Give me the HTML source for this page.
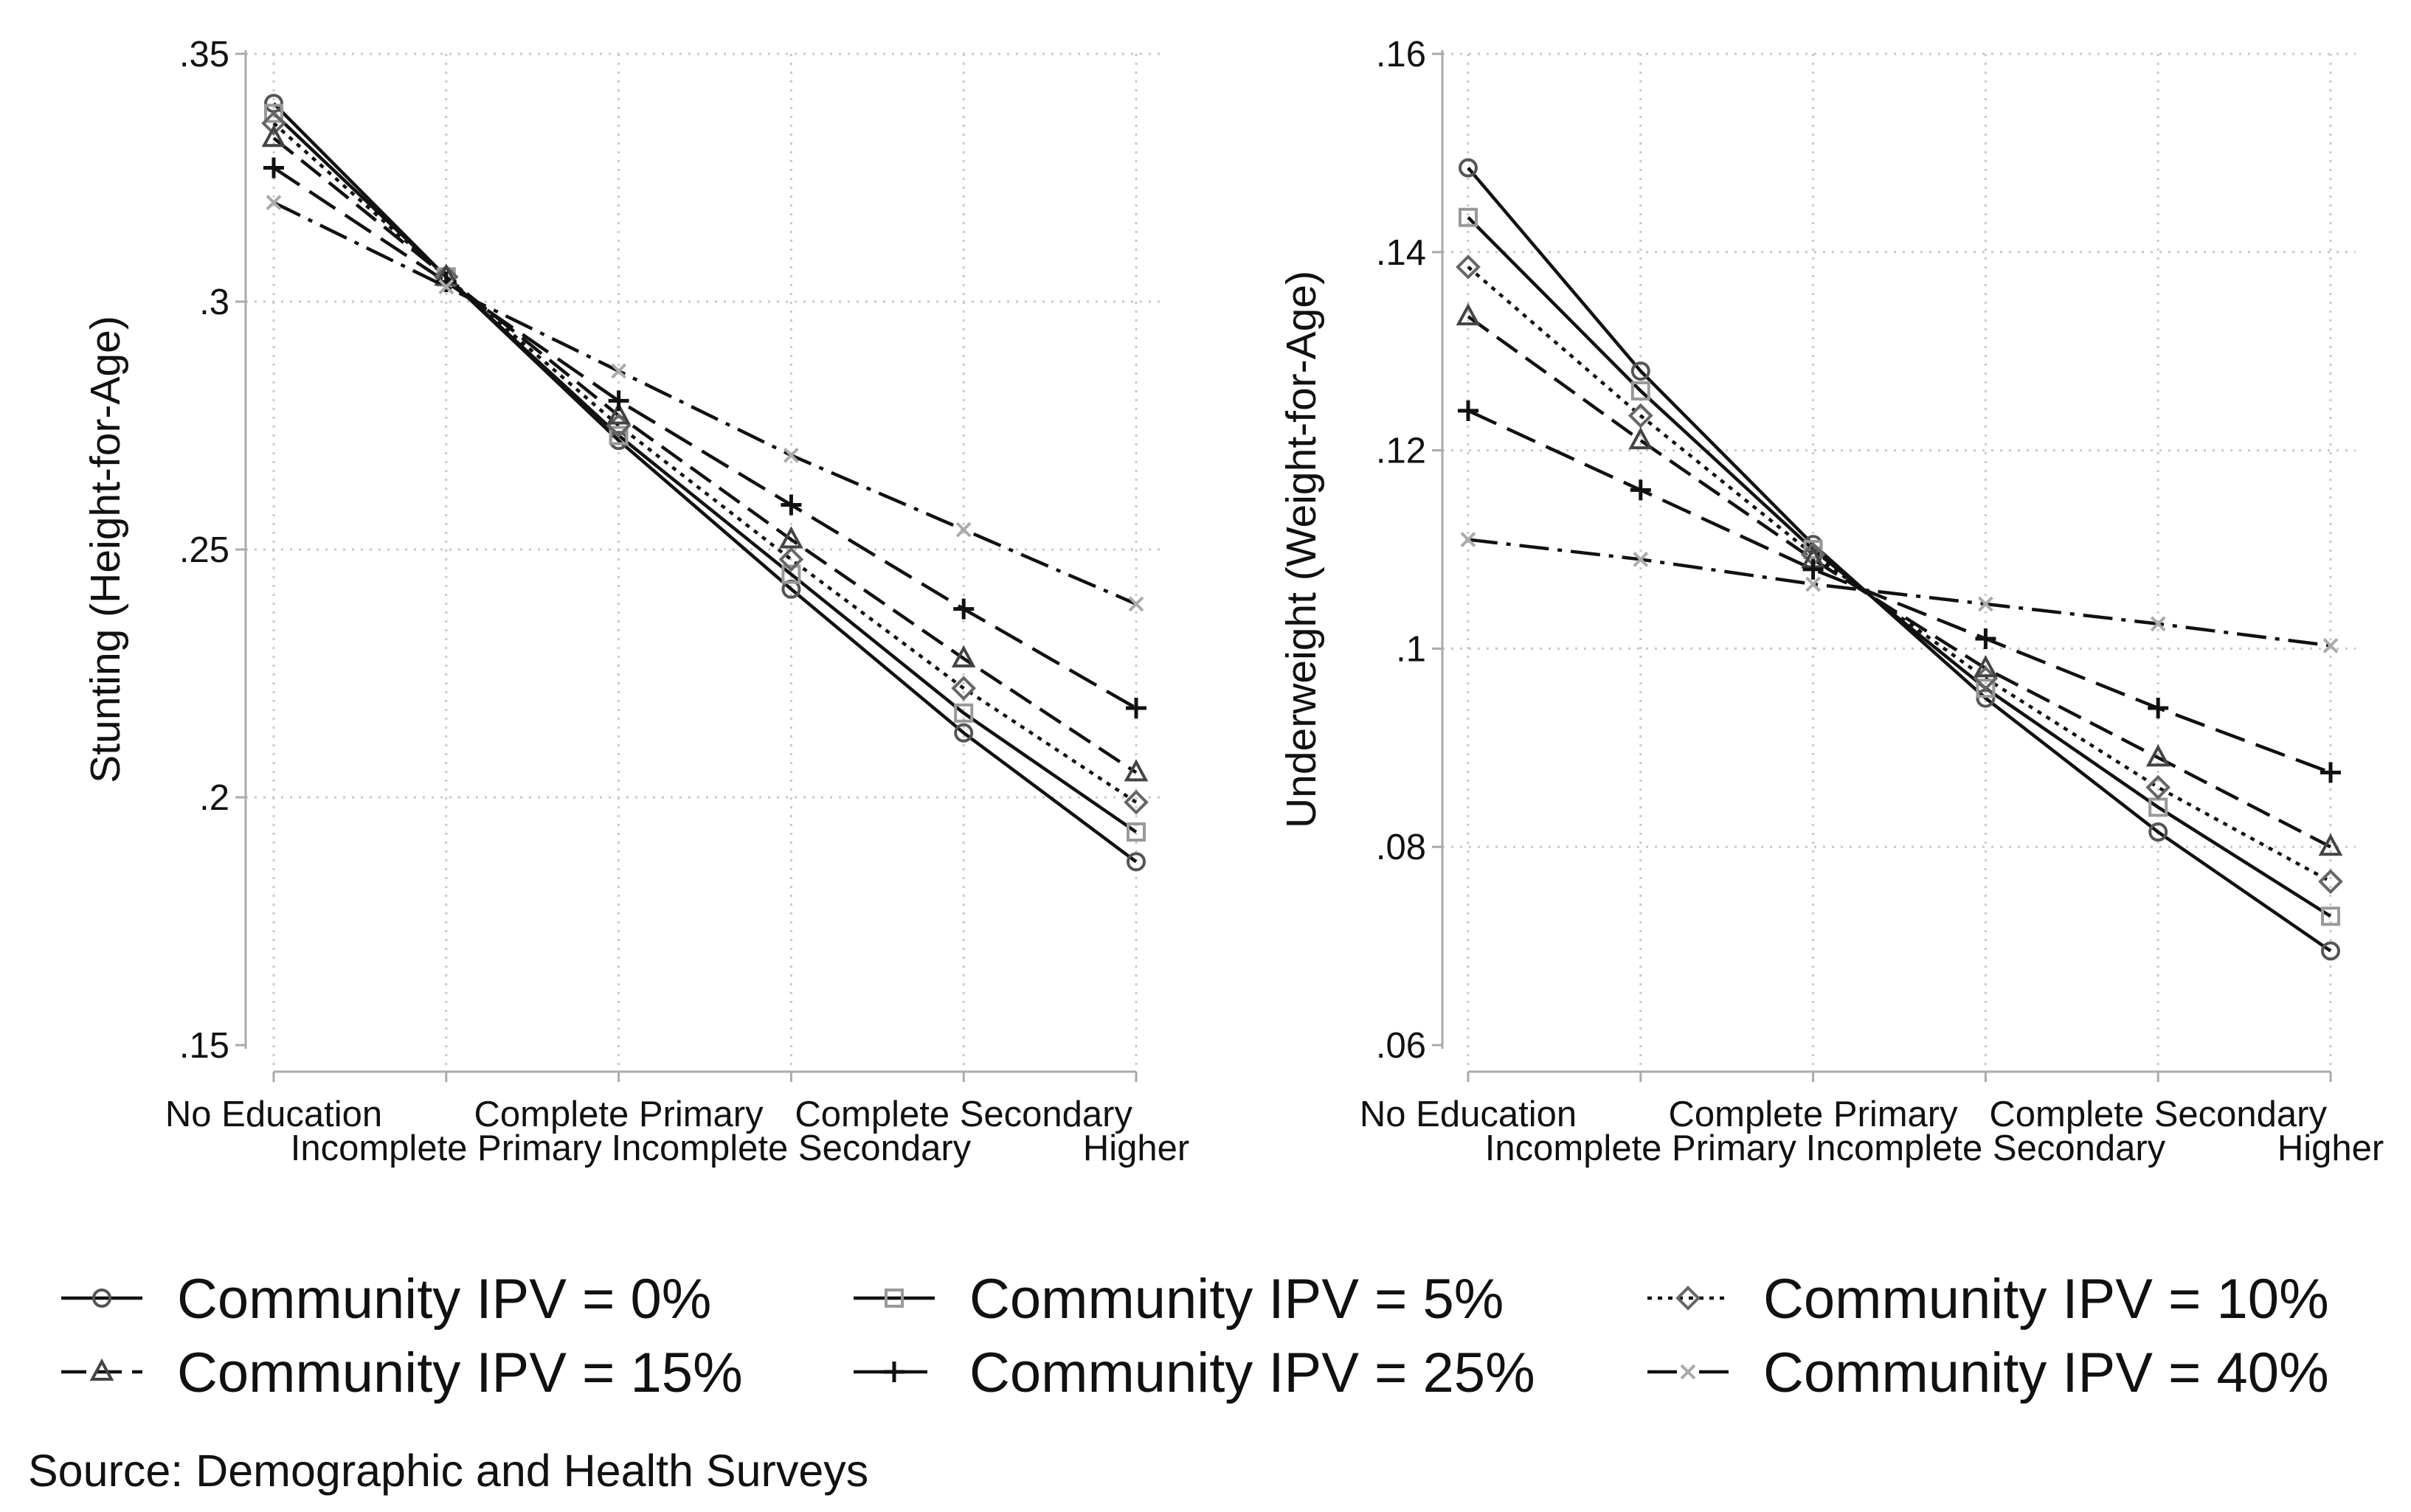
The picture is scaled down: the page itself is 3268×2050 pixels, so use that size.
<!DOCTYPE html>
<html><head><meta charset="utf-8"><style>
html,body{margin:0;padding:0;background:#fff;}
svg{display:block;font-family:"Liberation Sans",Arial,sans-serif;}
</style></head><body>
<svg id="chart" width="3268" height="2050" viewBox="0 0 3268 2050">
<rect width="3268" height="2050" fill="#fff"/>
<g id="plots"></g>
<g id="legend"></g>
<text x="38" y="2015" font-size="61" fill="#111">Source: Demographic and Health Surveys</text>
</svg>
<script>
const categories = ["No Education","Incomplete Primary","Complete Primary","Incomplete Secondary","Complete Secondary","Higher"];
const seriesNames = ["Community IPV = 0%","Community IPV = 5%","Community IPV = 10%","Community IPV = 15%","Community IPV = 25%","Community IPV = 40%"];
const stunting0 = [0.340,0.305,0.272,0.242,0.213,0.187];
const stunting5 = [0.338,0.305,0.273,0.245,0.217,0.193];
const stunting10 = [0.336,0.305,0.275,0.248,0.222,0.199];
const stunting15 = [0.333,0.305,0.277,0.252,0.228,0.205];
const stunting25 = [0.327,0.304,0.280,0.259,0.238,0.218];
const stunting40 = [0.320,0.303,0.286,0.269,0.254,0.239];
const under0 = [0.1485,0.128,0.1105,0.095,0.0815,0.0695];
const under5 = [0.1435,0.126,0.110,0.096,0.084,0.073];
const under10 = [0.1385,0.1235,0.1095,0.097,0.086,0.0765];
const under15 = [0.1335,0.121,0.109,0.098,0.089,0.080];
const under25 = [0.124,0.116,0.108,0.101,0.094,0.0875];
const under40 = [0.111,0.109,0.1065,0.1045,0.1025,0.1003];
const stuntTicks = [0.15,0.2,0.25,0.3,0.35];
const stuntTickLabels = [".15",".2",".25",".3",".35"];
const underTicks = [0.06,0.08,0.1,0.12,0.14,0.16];
const underTickLabels = [".06",".08",".1",".12",".14",".16"];

const NS="http://www.w3.org/2000/svg";
function mk(tag,attrs,parent){const e=document.createElementNS(NS,tag);for(const k in attrs)e.setAttribute(k,attrs[k]);parent.appendChild(e);return e;}
const styles=[
 {dash:"",color:"#111",mcol:"#555",marker:"circle"},
 {dash:"",color:"#111",mcol:"#999",marker:"square"},
 {dash:"6,8",color:"#111",mcol:"#666",marker:"diamond"},
 {dash:"34,14",color:"#111",mcol:"#444",marker:"triangle"},
 {dash:"42,16",color:"#111",mcol:"#111",marker:"plus"},
 {dash:"40,12,6,12",color:"#111",mcol:"#aaa",marker:"x"}
];
function drawMarker(g,type,x,y,col){
  let m;
  if(type==="circle") m=mk("circle",{cx:x,cy:y,r:11,fill:"none",stroke:col,"stroke-width":4},g);
  else if(type==="square") m=mk("rect",{x:x-11,y:y-11,width:22,height:22,fill:"none",stroke:col,"stroke-width":4},g);
  else if(type==="diamond") m=mk("polygon",{points:`${x},${y-14} ${x+14},${y} ${x},${y+14} ${x-14},${y}`,fill:"none",stroke:col,"stroke-width":4},g);
  else if(type==="triangle") m=mk("polygon",{points:`${x},${y-14} ${x+13},${y+10} ${x-13},${y+10}`,fill:"none",stroke:col,"stroke-width":4},g);
  else if(type==="plus") m=mk("path",{d:`M${x-14},${y}H${x+14}M${x},${y-14}V${y+14}`,stroke:col,"stroke-width":5},g);
  else m=mk("path",{d:`M${x-9},${y-9}L${x+9},${y+9}M${x+9},${y-9}L${x-9},${y+9}`,stroke:col,"stroke-width":4},g);
  
  
}
function panel(opt){
  const root=document.getElementById("plots");
  const g=mk("g",{},root);
  
  
  const xs=i=>opt.x0+i*opt.dx;
  const ys=v=>opt.yTop+(opt.yMax-v)/(opt.yMax-opt.yMin)*(opt.yBot-opt.yTop);
  opt.ticks.forEach((t,i)=>{
    const y=ys(t);
    if(i>0){const gl=mk("line",{x1:opt.axisX,x2:opt.gridR,y1:y,y2:y,stroke:"#c8c8c8","stroke-width":3,"stroke-dasharray":"3,9"},g);
    }
    const tk=mk("line",{x1:opt.axisX-14,x2:opt.axisX,y1:y,y2:y,stroke:"#aaa","stroke-width":3},g);
    
    const tl=mk("text",{x:opt.axisX-22,y:y+17,"text-anchor":"end","font-size":49,fill:"#111"},g);
    tl.textContent=opt.tickLabels[i];
    
  });
  categories.forEach((c,i)=>{
    const x=xs(i);
    const gl=mk("line",{x1:x,x2:x,y1:opt.yTop,y2:opt.xAxisY,stroke:"#c8c8c8","stroke-width":3,"stroke-dasharray":"3,9"},g);
    
    const tk=mk("line",{x1:x,x2:x,y1:opt.xAxisY,y2:opt.xAxisY+14,stroke:"#aaa","stroke-width":3},g);
    
    const tl=mk("text",{x:x,y:(i%2===0)?opt.xAxisY+74:opt.xAxisY+120,"text-anchor":"middle","font-size":49,fill:"#111"},g);
    tl.textContent=c;
    
  });
  const ya=mk("line",{x1:opt.axisX,x2:opt.axisX,y1:opt.yTop-5,y2:opt.yBot+5,stroke:"#aaa","stroke-width":3},g);
  
  const xa=mk("line",{x1:xs(0),x2:xs(5),y1:opt.xAxisY,y2:opt.xAxisY,stroke:"#aaa","stroke-width":3},g);
  
  const cy=(opt.yTop+opt.yBot)/2;
  const yt=mk("text",{x:opt.titleX,y:cy,"text-anchor":"middle","font-size":57,fill:"#111",transform:`rotate(-90 ${opt.titleX} ${cy})`},g);
  yt.textContent=opt.title;
  
  opt.series.forEach((vals,s)=>{
    const st=styles[s];
    const pl=mk("polyline",{points:vals.map((v,i)=>xs(i)+","+ys(v)).join(" "),fill:"none",stroke:st.color,"stroke-width":4.5,"stroke-dasharray":st.dash},g);
    
  });
  opt.series.forEach((vals,s)=>{
    vals.forEach((v,i)=>drawMarker(g,styles[s].marker,xs(i),ys(v),styles[s].mcol));
  });
}
panel({name:"stunting-panel",x0:371,dx:233.8,yTop:73,yBot:1417,yMin:0.15,yMax:0.35,axisX:333,gridR:1573,xAxisY:1453,titleX:162,
  title:"Stunting (Height-for-Age)",ticks:stuntTicks,tickLabels:stuntTickLabels,
  series:[stunting0,stunting5,stunting10,stunting15,stunting25,stunting40]});
panel({name:"underweight-panel",x0:1990,dx:233.8,yTop:73,yBot:1417,yMin:0.06,yMax:0.16,axisX:1955,gridR:3193,xAxisY:1453,titleX:1783,
  title:"Underweight (Weight-for-Age)",ticks:underTicks,tickLabels:underTickLabels,
  series:[under0,under5,under10,under15,under25,under40]});
const lg=document.getElementById("legend");
const colX=[83,1157,2233], rowY=[1760,1860];
seriesNames.forEach((n,s)=>{
  const cx=colX[s%3], cy=rowY[Math.floor(s/3)];
  const g=mk("g",{},lg);
  
  
  mk("line",{x1:cx,x2:cx+110,y1:cy,y2:cy,stroke:"#111","stroke-width":4.5,"stroke-dasharray":styles[s].dash},g);
  drawMarker(g,styles[s].marker,cx+55,cy,styles[s].mcol);
  const t=mk("text",{x:cx+157,y:cy+27,"font-size":76,fill:"#111"},g);
  t.textContent=n;
});
</script>
</body></html>
